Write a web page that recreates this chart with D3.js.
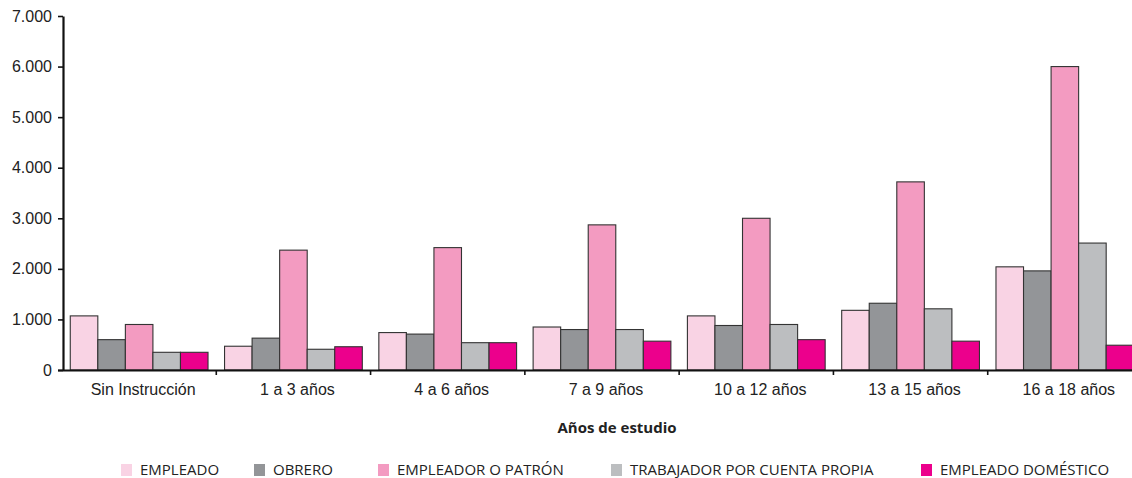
<!DOCTYPE html>
<html>
<head>
<meta charset="utf-8">
<script src="https://cdn.jsdelivr.net/npm/d3@7"></script>
<style>
  body { margin: 0; background: #fff; }
  svg { display: block; }
</style>
</head>
<body>
<div id="viz"></div>
<script>
// data
var categories = ['Sin Instrucción', '1 a 3 años', '4 a 6 años', '7 a 9 años', '10 a 12 años', '13 a 15 años', '16 a 18 años'];
var seriesNames = ['EMPLEADO', 'OBRERO', 'EMPLEADOR O PATRÓN', 'TRABAJADOR POR CUENTA PROPIA', 'EMPLEADO DOMÉSTICO'];
var empleado   = [1070, 470, 740, 850, 1070, 1180, 2040];
var obrero     = [600, 630, 710, 800, 880, 1320, 1960];
var patron     = [900, 2370, 2420, 2870, 3000, 3720, 6000];
var trabajador = [350, 410, 540, 800, 900, 1210, 2510];
var domestico  = [350, 460, 540, 570, 600, 570, 490];
var yTicks = [0, 1000, 2000, 3000, 4000, 5000, 6000, 7000];
var xTitle = 'Años de estudio';

var colors = ['#f9d3e4', '#939598', '#f39bc1', '#bcbec0', '#ec008c'];
var legendX = [121, 254, 378, 611, 921];

var width = 1132, height = 478,
    plotLeft = 62, plotRight = 1142, plotTop = 16, plotBottom = 370;

var table = categories.map(function(c, i) {
  return { cat: c, vals: [empleado[i], obrero[i], patron[i], trabajador[i], domestico[i]] };
});

var loc = d3.formatLocale({ decimal: ',', thousands: '.', grouping: [3], currency: ['', ''] });
var fmt = loc.format(',d');

var svg = d3.select('#viz').append('svg')
  .attr('width', width)
  .attr('height', height);

var x0 = d3.scaleBand().domain(categories).range([plotLeft, plotRight]).padding(0);
var x1 = d3.scaleBand().domain(d3.range(seriesNames.length))
  .range([0, x0.bandwidth()]).paddingInner(0).paddingOuter(0.3);
var y = d3.scaleLinear().domain([0, 7000]).range([plotBottom, plotTop]);

// bars
var groups = svg.append('g').selectAll('g').data(table)
  .enter().append('g')
  .attr('transform', function(d) { return 'translate(' + x0(d.cat) + ',0)'; });

groups.selectAll('rect').data(function(d) { return d.vals; })
  .enter().append('rect')
  .attr('x', function(d, i) { return x1(i); })
  .attr('y', function(d) { return y(d); })
  .attr('width', x1.bandwidth())
  .attr('height', function(d) { return plotBottom - y(d); })
  .attr('fill', function(d, i) { return colors[i]; })
  .attr('stroke', '#333')
  .attr('stroke-width', 1.1);

// y axis
var yAxis = svg.append('g')
  .attr('transform', 'translate(' + (plotLeft + 1) + ',0)')
  .call(d3.axisLeft(y).tickValues(yTicks).tickFormat(fmt).tickSize(5).tickSizeOuter(0).tickPadding(6));
yAxis.select('.domain').attr('stroke', '#111').attr('stroke-width', 2.2);
yAxis.selectAll('.tick line').attr('stroke', '#111').attr('stroke-width', 1.6);
yAxis.selectAll('text')
  .style('font-family', '"Liberation Sans", Arial, sans-serif')
  .style('font-size', '16px')
  .attr('fill', '#222');

// x axis line + boundary ticks
svg.append('line')
  .attr('x1', plotLeft - 4).attr('x2', width)
  .attr('y1', plotBottom + 0.5).attr('y2', plotBottom + 0.5)
  .attr('stroke', '#111').attr('stroke-width', 2.2);

svg.append('g').selectAll('line')
  .data(categories.slice(1))
  .enter().append('line')
  .attr('x1', function(d) { return x0(d); })
  .attr('x2', function(d) { return x0(d); })
  .attr('y1', plotBottom).attr('y2', plotBottom + 5)
  .attr('stroke', '#111').attr('stroke-width', 1.6);

var xAxis = svg.append('g')
  .attr('transform', 'translate(4,' + plotBottom + ')')
  .call(d3.axisBottom(x0).tickSize(0).tickPadding(14));
xAxis.select('.domain').remove();
xAxis.selectAll('text')
  .style('font-family', '"Liberation Sans", Arial, sans-serif')
  .style('font-size', '16px')
  .attr('fill', '#222');

// x title
svg.append('text')
  .attr('x', 617).attr('y', 433)
  .attr('text-anchor', 'middle')
  .style('font-family', '"Open Sans", sans-serif')
  .style('font-weight', 'bold')
  .style('font-size', '15px')
  .attr('fill', '#222')
  .text(xTitle);

// legend
var legend = svg.append('g').selectAll('g').data(seriesNames)
  .enter().append('g')
  .attr('transform', function(d, i) { return 'translate(' + legendX[i] + ',464)'; });

legend.append('rect')
  .attr('width', 11).attr('height', 12)
  .attr('fill', function(d, i) { return colors[i]; });

legend.append('text')
  .attr('x', 19).attr('y', 11)
  .style('font-family', '"Open Sans", sans-serif')
  .style('font-size', '15px')
  .attr('fill', '#222')
  .text(function(d) { return d; });
</script>
</body>
</html>
